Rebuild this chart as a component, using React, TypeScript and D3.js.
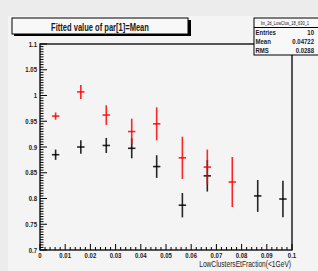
import { scaleLinear, range } from 'd3'

// values
const redX = [0.0062, 0.0162, 0.0263, 0.0364, 0.0463, 0.0565, 0.0664, 0.0763]
const redY = [0.96, 1.007, 0.962, 0.93, 0.945, 0.879, 0.861, 0.832]
const redErr = [0.007, 0.0136, 0.019, 0.025, 0.032, 0.041, 0.034, 0.0485]

const blackX = [0.0062, 0.0162, 0.0263, 0.0364, 0.0463, 0.0565, 0.0664, 0.0864, 0.0964]
const blackY = [0.885, 0.9, 0.903, 0.8975, 0.862, 0.787, 0.844, 0.805, 0.799]
const blackErr = [0.01, 0.013, 0.0146, 0.0194, 0.022, 0.0237, 0.0305, 0.031, 0.0356]

const xTickLabels = ['0', '0.01', '0.02', '0.03', '0.04', '0.05', '0.06', '0.07', '0.08', '0.09', '0.1']
const yTickLabels = ['0.7', '0.75', '0.8', '0.85', '0.9', '0.95', '1', '1.05', '1.1']

const statsName = 'lin_2d_LowClus_18_630_1'
const statsRows: [string, string][] = [
  ['Entries', '10'],
  ['Mean', '0.04722'],
  ['RMS', '0.0288'],
]

const title = 'Fitted value of par[1]=Mean'
const xTitle = 'LowClustersEtFraction(<1GeV)'

const W = 318
const H = 271
const frame = { left: 40, top: 44, right: 292, bottom: 250 }
const font = '"Liberation Sans", Arial, sans-serif'

// narrow text, ROOT style (Helvetica condensed look)
function T({ x, y, size, anchor = 'start', sx = 0.8, weight = 'bold', children }: {
  x: number
  y: number
  size: number
  anchor?: 'start' | 'middle' | 'end'
  sx?: number
  weight?: string
  children: string
}) {
  return (
    <text
      transform={`translate(${x},${y}) scale(${sx},1)`}
      fontSize={size}
      fontWeight={weight}
      textAnchor={anchor}
      fill="#1a1a1a"
    >
      {children}
    </text>
  )
}

export default function App() {
  const x = scaleLinear().domain([0, 0.1]).range([frame.left, frame.right])
  const y = scaleLinear().domain([0.7, 1.1]).range([frame.bottom, frame.top])

  const xMinor = range(0, 51).map((i) => i * 0.002)
  const yMinor = range(0, 81).map((i) => 0.7 + i * 0.005)

  const cross = (cx: number, cy: number, e: number, color: string, key: string) => (
    <g key={key} stroke={color} strokeWidth={1.6} strokeOpacity={0.85}>
      <line x1={x(cx)} x2={x(cx)} y1={y(cy - e)} y2={y(cy + e)} />
      <line x1={x(cx) - 3.7} x2={x(cx) + 3.7} y1={y(cy)} y2={y(cy)} />
    </g>
  )

  return (
    <svg
      width={W}
      height={H}
      style={{ position: 'absolute', left: 0, top: 0 }}
      fontFamily={font}
    >
      <rect width={W} height={H} fill="#ececec" />
      <rect x={8} y={16} width={W - 8} height={H - 16} fill="#f4f4f4" />

      {/* frame */}
      <rect
        x={frame.left}
        y={frame.top}
        width={frame.right - frame.left}
        height={frame.bottom - frame.top}
        fill="none"
        stroke="#000"
        strokeWidth={1.3}
      />

      {/* y ticks */}
      {yMinor.map((v, i) => (
        <line
          key={'ym' + i}
          x1={frame.left}
          x2={frame.left + (i % 10 === 0 ? 7 : 3.5)}
          y1={y(v)}
          y2={y(v)}
          stroke="#000"
          strokeWidth={1}
        />
      ))}
      {yTickLabels.map((t, i) => (
        <T key={'yl' + t} x={frame.left - 3} y={y(0.7 + i * 0.05) + 2.5} size={7.5} anchor="end">
          {t}
        </T>
      ))}

      {/* x ticks */}
      {xMinor.map((v, i) => (
        <line
          key={'xm' + i}
          x1={x(v)}
          x2={x(v)}
          y1={frame.bottom}
          y2={frame.bottom - (i % 5 === 0 ? 6 : 3)}
          stroke="#000"
          strokeWidth={1}
        />
      ))}
      {xTickLabels.map((t, i) => (
        <T key={'xl' + t} x={x(i * 0.01)} y={frame.bottom + 7.5} size={7.5} anchor="middle">
          {t}
        </T>
      ))}

      <T x={frame.right - 1} y={267} size={8.5} anchor="end" sx={0.78} weight="normal">
        {xTitle}
      </T>

      {/* points: black first, red on top */}
      {blackX.map((v, i) => cross(v, blackY[i], blackErr[i], '#000', 'b' + i))}
      {redX.map((v, i) => cross(v, redY[i], redErr[i], '#ff0000', 'r' + i))}

      {/* title box */}
      <rect x={14} y={20} width={177} height={16} fill="#000" />
      <rect x={12} y={18} width={176} height={16} fill="#f8f8f8" stroke="#000" strokeWidth={1} />
      <T x={100} y={30.5} size={10.5} anchor="middle" sx={0.72} weight="bold">
        {title}
      </T>

      {/* stats box */}
      <rect x={254} y={18} width={70} height={37} fill="#f8f8f8" stroke="#000" strokeWidth={1} />
      <line x1={254} x2={318} y1={27.5} y2={27.5} stroke="#000" strokeWidth={1} />
      <T x={285} y={25} size={5} anchor="middle" sx={0.8} weight="normal">
        {statsName}
      </T>
      {statsRows.map(([k, v], i) => (
        <g key={k}>
          <T x={255.5} y={35 + i * 9} size={7.5} sx={0.8}>
            {k}
          </T>
          <T x={314} y={35 + i * 9} size={7.5} anchor="end" sx={0.8}>
            {v}
          </T>
        </g>
      ))}
    </svg>
  )
}
